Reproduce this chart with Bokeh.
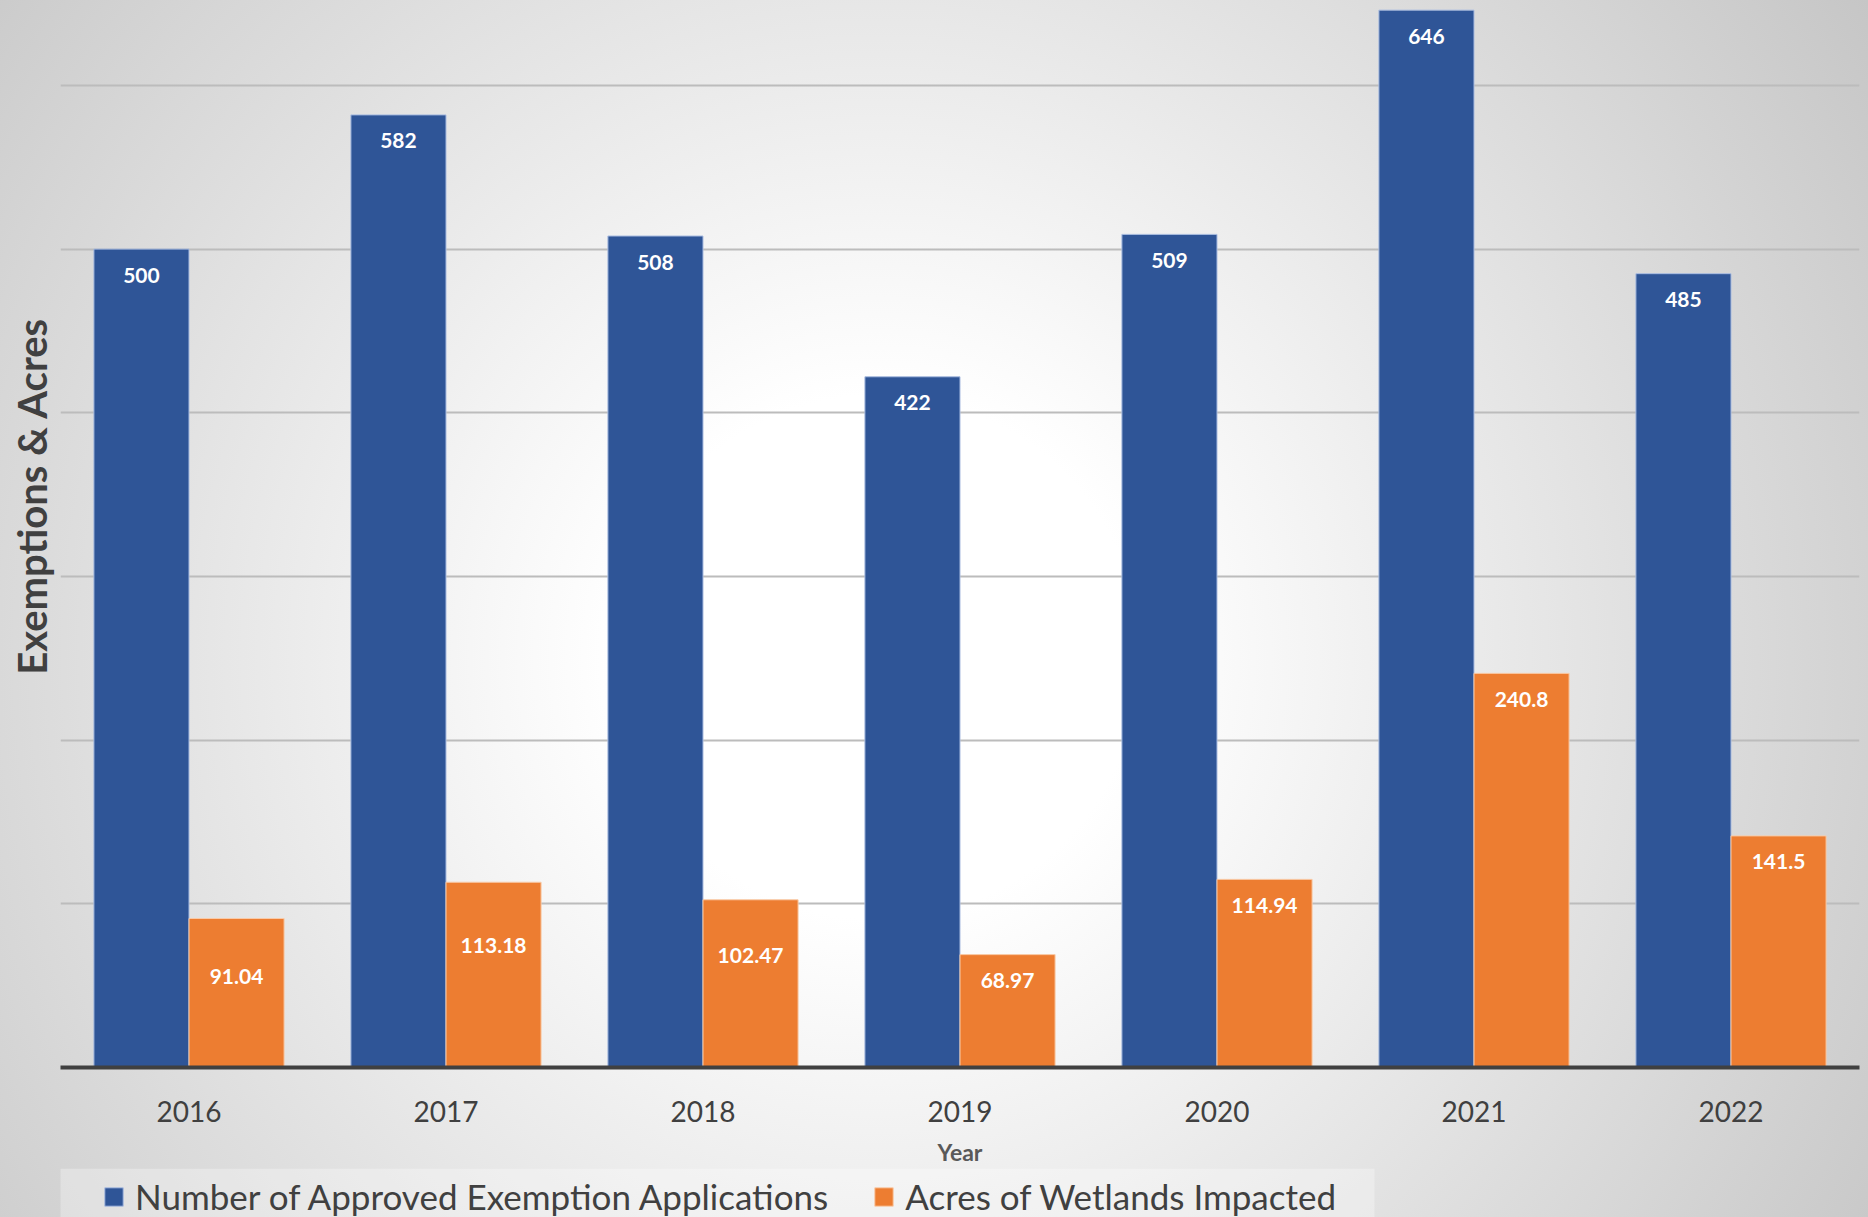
from bokeh.plotting import figure
from bokeh.layouts import column
from bokeh.models import (FactorRange, ColumnDataSource, Legend, LegendItem,
                          Range1d, FixedTicker, Title, BoxAnnotation)
from bokeh.transform import dodge
from bokeh.core.properties import value
from bokeh.embed import file_html
from bokeh.resources import INLINE

# ---- data ----
years = ["2016", "2017", "2018", "2019", "2020", "2021", "2022"]
exemptions = [500, 582, 508, 422, 509, 646, 485]
acres = [91.04, 113.18, 102.47, 68.97, 114.94, 240.8, 141.5]
exemption_labels = ["500", "582", "508", "422", "509", "646", "485"]
acre_labels = ["91.04", "113.18", "102.47", "68.97", "114.94", "240.8", "141.5"]
grid_ticks = [100, 200, 300, 400, 500, 600]
series_names = ["Number of Approved Exemption Applications", "Acres of Wetlands Impacted"]

# ---- styling (label drop below bar top, px) ----
acre_label_drop = [58, 63, 56, 26, 26, 26, 26]
ex_label_drop = [26] * len(years)

BLUE = "#2F5597"
ORANGE = "#ED7D31"
BLUE_EDGE = "#A9BCE0"
ORANGE_EDGE = "#F9CBA8"
FONT = "Lato"

src = ColumnDataSource(dict(year=years, ex=exemptions, ac=acres,
                            ex_lbl=exemption_labels, ac_lbl=acre_labels,
                            ex_drop=ex_label_drop, ac_drop=acre_label_drop))

W = 1868
H_MAIN, H_LEG = 1168, 49
p = figure(x_range=FactorRange(*years), y_range=Range1d(0, 647),
           width=W, height=H_MAIN, output_backend="svg", toolbar_location=None,
           min_border_left=60, min_border_right=9, min_border_top=8,
           min_border_bottom=98)
p.background_fill_color = None
p.border_fill_color = None
p.outline_line_color = None

off = 0.185
bw = 0.37
r1 = p.vbar(x=dodge("year", -off, range=p.x_range), top="ex", width=bw, source=src,
            fill_color=BLUE, line_color=BLUE_EDGE, line_width=1)
r2 = p.vbar(x=dodge("year", off, range=p.x_range), top="ac", width=bw, source=src,
            fill_color=ORANGE, line_color=ORANGE_EDGE, line_width=1)

p.text(x=dodge("year", -off, range=p.x_range), y="ex", text="ex_lbl", source=src,
       y_offset="ex_drop", text_color="white", text_font=value(FONT),
       text_font_style="bold", text_font_size="21px", text_align="center",
       text_baseline="middle")
p.text(x=dodge("year", off, range=p.x_range), y="ac", text="ac_lbl", source=src,
       y_offset="ac_drop", text_color="white", text_font=value(FONT),
       text_font_style="bold", text_font_size="21px", text_align="center",
       text_baseline="middle")

# grid
p.xgrid.grid_line_color = None
p.ygrid.ticker = FixedTicker(ticks=grid_ticks)
p.ygrid.grid_line_color = "#bcbcbc"
p.ygrid.grid_line_width = 2

# axes
p.yaxis.visible = False
xa = p.xaxis[0]
xa.axis_line_color = "#404040"
xa.axis_line_width = 4
xa.major_tick_line_color = None
xa.major_label_text_font = FONT
xa.major_label_text_font_size = "28px"
xa.major_label_text_color = "#404040"
xa.major_label_standoff = 27
xa.axis_label = "Year"
xa.axis_label_text_font = FONT
xa.axis_label_text_font_size = "23px"
xa.axis_label_text_font_style = "bold"
xa.axis_label_text_color = "#595959"
xa.axis_label_standoff = 13

# y label as left title
ttl = Title(text="Exemptions & Acres", text_font=FONT, text_font_size="40px",
            text_font_style="bold", text_color="#404040", align="right",
            offset=309, standoff=10)
p.add_layout(ttl, "left")

# ---- legend strip (hidden renderers only provide the legend swatches) ----
p2 = figure(width=W, height=H_LEG, output_backend="svg", toolbar_location=None,
            x_axis_type=None, y_axis_type=None, min_border=0,
            x_range=FactorRange(*years), y_range=Range1d(-100001, -100000))
p2.background_fill_color = None
p2.border_fill_color = None
p2.outline_line_color = None
p2.grid.visible = False
lg1 = p2.vbar(x="year", top="ex", width=bw, source=src,
              fill_color=BLUE, line_color=BLUE_EDGE, line_width=1)
lg2 = p2.vbar(x="year", top="ac", width=bw, source=src,
              fill_color=ORANGE, line_color=ORANGE_EDGE, line_width=1)
lg1.visible = False
lg2.visible = False

box = BoxAnnotation(left=-9, right=1314, top=0, bottom=H_LEG,
                    left_units="screen", right_units="screen",
                    top_units="screen", bottom_units="screen",
                    fill_color="white", fill_alpha=0.3, line_color=None)
p2.add_layout(box)

legend = Legend(items=[LegendItem(label=series_names[0], renderers=[lg1]),
                       LegendItem(label=series_names[1], renderers=[lg2])],
                orientation="horizontal", location=(42, 0),
                glyph_width=23, glyph_height=23, label_standoff=10, spacing=44,
                padding=0, margin=0, border_line_color=None,
                background_fill_alpha=0, inactive_fill_alpha=0,
                label_text_font=FONT,
                label_text_font_size="35px", label_text_color="#404040")
p2.add_layout(legend)

layout = column(p, p2, spacing=0,
                styles={"background": "radial-gradient(circle farthest-corner at 47% 54%, #ffffff 0%, #ffffff 22%, #c6c6c6 100%)"})

open("out.html", "w").write(file_html(layout, INLINE))
